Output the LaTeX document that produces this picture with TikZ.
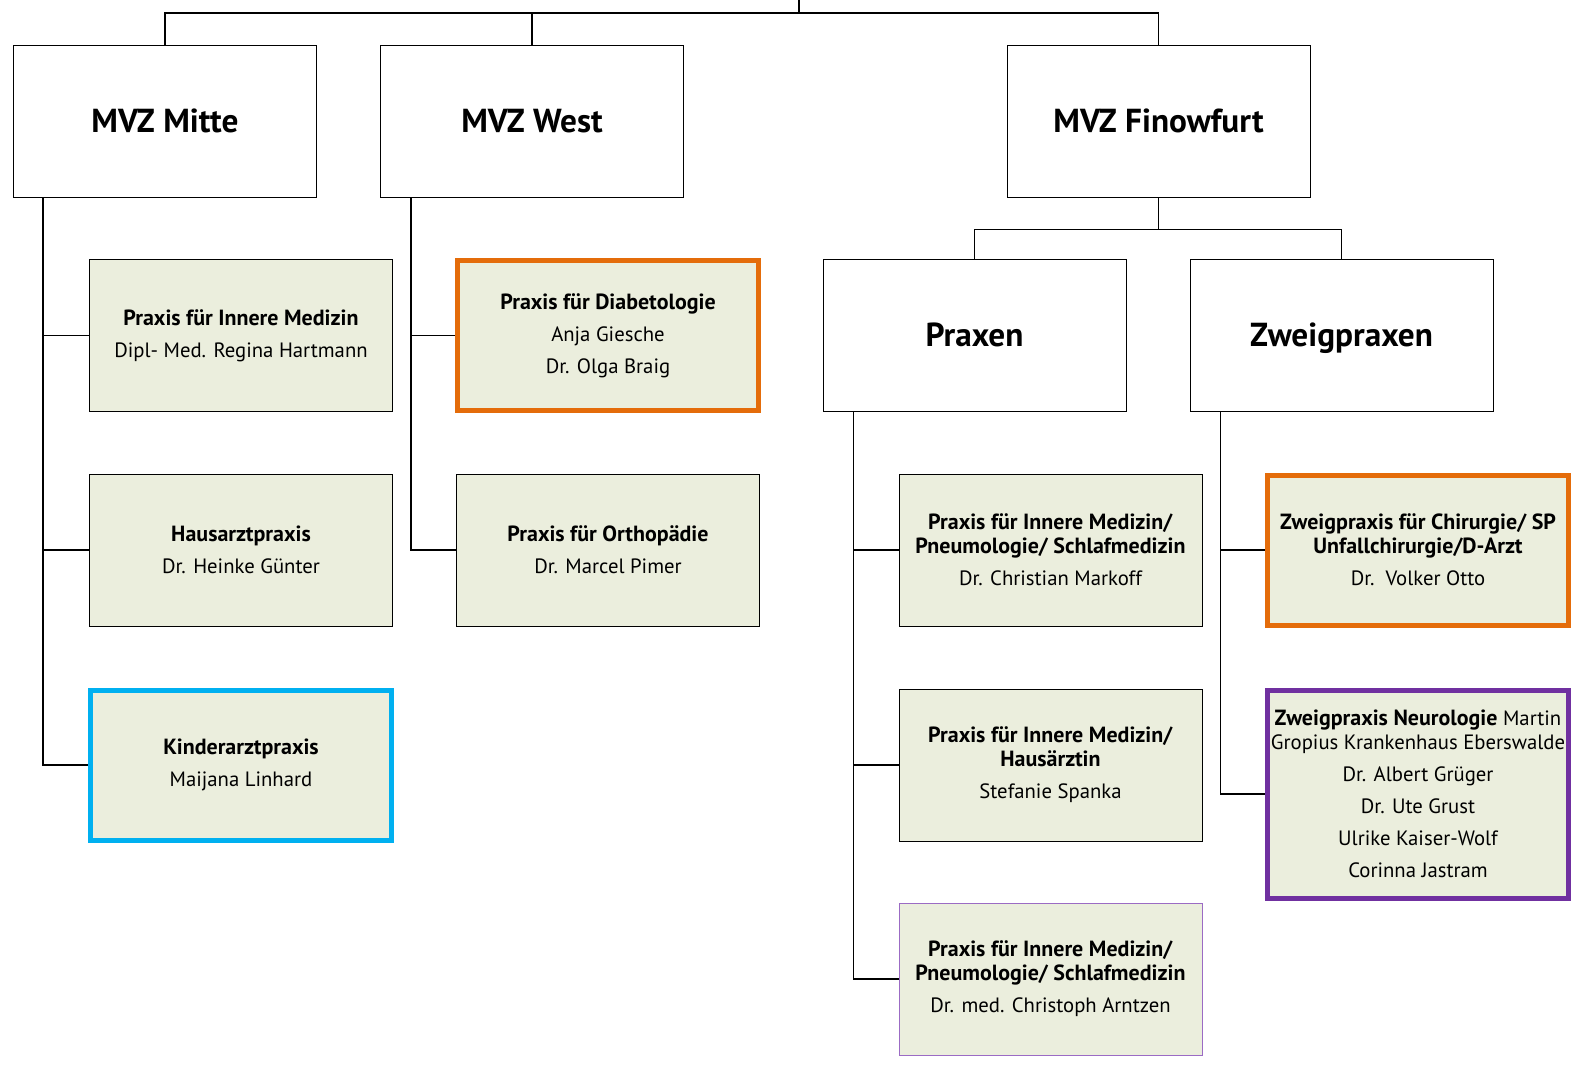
\documentclass[tikz,border=0pt]{standalone}
\usepackage{fontspec}
\setmainfont{PT Sans}[BoldFeatures={Scale=1.06}]
\definecolor{pale}{HTML}{EBEEDD}
\definecolor{c1}{HTML}{E46C0A}
\definecolor{c2}{HTML}{00B0F0}
\definecolor{c3}{HTML}{7030A0}
\definecolor{c4}{HTML}{9B6BC4}

\begin{document}
\begin{tikzpicture}[x=1bp, y=-1bp,
        head/.style={draw, line width=1bp, fill=white, minimum width=303bp, minimum height=152bp, inner sep=2bp, text height=26bp, text depth=4bp, font=\fontsize{31.5}{38}\selectfont\bfseries},
        unit/.style={draw, line width=1bp, fill=pale, minimum width=303bp, minimum height=152bp, inner sep=2bp, align=center, font=\fontsize{20.8}{32.1}\selectfont},
        bold/.style={draw, line width=5bp, minimum width=301bp, minimum height=150bp},
        wire/.style={line width=1.2bp}]
        \useasboundingbox (0,0) rectangle (1574,1064);
        % Kopfebene
        \node [head] (mitte) at (165,121) {MVZ Mitte};
        \node [head] (west) at (532,121) {MVZ West};
        \node [head] (fino) at (1158.5,121) {MVZ Finowfurt};
        \node [head] (praxen) at (974.5,335.5) {Praxen};
        \node [head] (zweig) at (1341.5,335.5) {Zweigpraxen};
        % MVZ Mitte
        \node [unit] (im) at (241,335.5) {\textbf{Praxis für Innere Medizin}\\Dipl- Med. Regina Hartmann};
        \node [unit] (haus) at (241,550) {\textbf{Hausarztpraxis}\\Dr. Heinke Günter};
        \node [unit, bold, draw=c2] (kind) at (241,765) {\textbf{Kinderarztpraxis}\\Maijana Linhard};
        % MVZ West
        \node [unit, bold, draw=c1] (dia) at (608,335.5) {\textbf{Praxis für Diabetologie}\\Anja Giesche\\Dr. Olga Braig};
        \node [unit] (ortho) at (608,550) {\textbf{Praxis für Orthopädie}\\Dr. Marcel Pimer};
        % Praxen
        \node [unit] (pneu) at (1050.5,550) {\textbf{Praxis für Innere Medizin/}\\[-8bp]\textbf{Pneumologie/ Schlafmedizin}\\Dr. Christian Markoff};
        \node [unit] (ha) at (1050.5,765) {\textbf{Praxis für Innere Medizin/}\\[-8bp]\textbf{Hausärztin}\\Stefanie Spanka};
        \node [unit, draw=c4] (arnt) at (1050.5,979) {\textbf{Praxis für Innere Medizin/}\\[-8bp]\textbf{Pneumologie/ Schlafmedizin}\\Dr. med. Christoph Arntzen};
        % Zweigpraxen
        \node [unit, bold, draw=c1] (chir) at (1418,550) {\textbf{Zweigpraxis für Chirurgie/ SP}\\[-8bp]\textbf{Unfallchirurgie/D-Arzt}\\Dr.\ \ Volker Otto};
        \node [unit, bold, draw=c3, minimum height=208bp, inner sep=0pt] (neuro) at (1418,794) {\textbf{Zweigpraxis Neurologie} Martin\\[-8bp]Gropius Krankenhaus Eberswalde\\Dr. Albert Grüger\\Dr. Ute Grust\\Ulrike Kaiser-Wolf\\Corinna Jastram};
        % Verbindungen
        \coordinate (top) at (799,0);
        \draw [wire] (top) -- ++(0,13) coordinate (j);
        \draw [wire] (mitte.north) |- (j) -| (fino.north);
        \draw [wire] (west.north) -- (west.north |- j);
        \draw [wire] (fino.south) -- ++(0,32) coordinate (f);
        \draw [wire] (praxen.north) |- (f) -| (zweig.north);
        \foreach \n in {im, haus, kind} \draw [wire] ([xshift=30bp]mitte.south west) |- (\n.west);
        \foreach \n in {dia, ortho} \draw [wire] ([xshift=31bp]west.south west) |- (\n.west);
        \foreach \n in {pneu, ha, arnt} \draw [wire] ([xshift=31bp]praxen.south west) |- (\n.west);
        \foreach \n in {chir, neuro} \draw [wire] ([xshift=31bp]zweig.south west) |- (\n.west);
    \end{tikzpicture}
\end{document}
